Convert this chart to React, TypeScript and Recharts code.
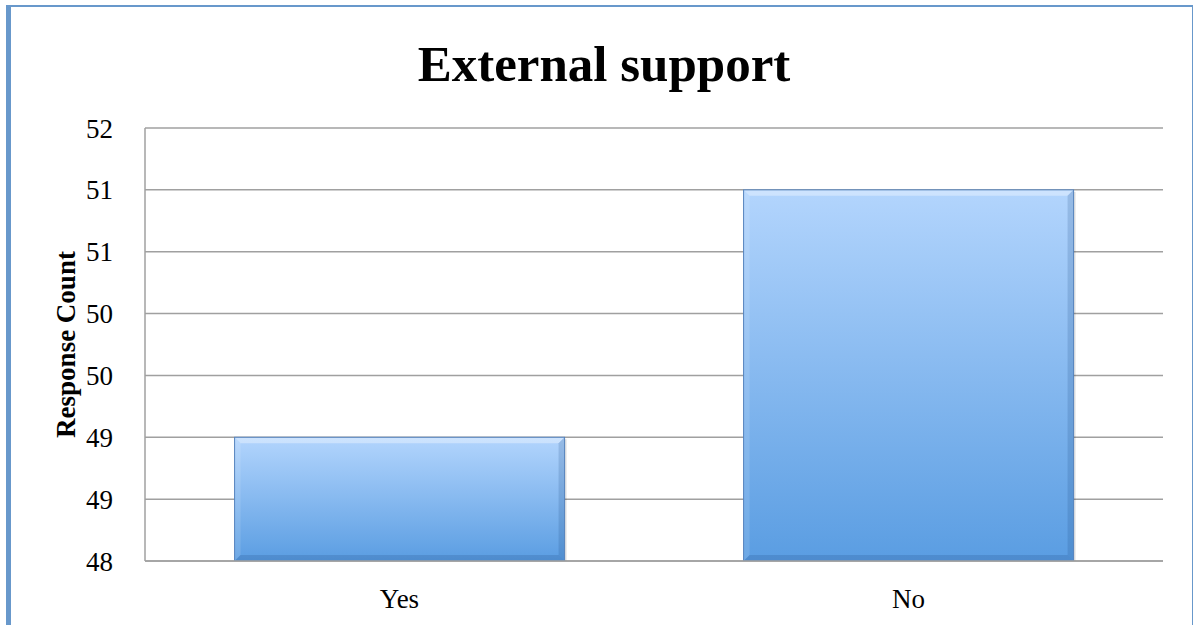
import { Bar, BarChart, CartesianGrid, XAxis, YAxis, Label } from "recharts"

const categories = ["Yes", "No"]
const responseCounts = [49, 51]
const yTicks = [48, 48.5, 49, 49.5, 50, 50.5, 51, 51.5]

const data = categories.map((name, i) => ({ name, count: responseCounts[i] }))

const serif = "'Liberation Serif', 'DejaVu Serif', serif"

// bevelled bar, roughly like the office "3-D" bar style
function BevelBar(props: any) {
  const { x, y, width, height } = props
  if (!width || !height || height <= 0) return null
  const b = 6
  return (
    <g>
      <rect x={x + 2} y={y + 2} width={width} height={height} fill="rgba(0,0,0,0.12)" />
      <rect x={x} y={y} width={width} height={height} fill="url(#barFill)" />
      <polygon
        points={`${x},${y} ${x + width},${y} ${x + width - b},${y + b} ${x + b},${y + b}`}
        fill="rgba(255,255,255,0.35)"
      />
      <polygon
        points={`${x},${y} ${x + b},${y + b} ${x + b},${y + height - b} ${x},${y + height}`}
        fill="rgba(255,255,255,0.12)"
      />
      <polygon
        points={`${x + width},${y} ${x + width},${y + height} ${x + width - b},${y + height - b} ${x + width - b},${y + b}`}
        fill="rgba(30,70,130,0.18)"
      />
      <polygon
        points={`${x},${y + height} ${x + width},${y + height} ${x + width - b},${y + height - b} ${x + b},${y + height - b}`}
        fill="rgba(30,70,130,0.2)"
      />
      <rect x={x} y={y} width={width} height={height} fill="none" stroke="#5583bd" strokeWidth={1} />
    </g>
  )
}

export default function App() {
  return (
    <div style={{ position: "absolute", left: 0, top: 0, width: 1195, height: 625, background: "#fff", overflow: "hidden" }}>
      <div
        style={{
          position: "absolute",
          left: 6,
          top: 5,
          width: 1187,
          height: 640,
          borderLeft: "5px solid #6898cb",
          borderTop: "2px solid #6898cb",
          borderRight: "1px solid #6898cb",
          boxSizing: "border-box",
        }}
      />
      <div
        style={{
          position: "absolute",
          left: 0,
          width: 1208,
          top: 34,
          textAlign: "center",
          fontFamily: serif,
          fontWeight: "bold",
          fontSize: 51,
          lineHeight: "60px",
          color: "#000",
        }}
      >
        External support
      </div>
      <BarChart
        width={1195}
        height={625}
        data={data}
        margin={{ top: 128, right: 32, bottom: 0, left: 85 }}
        barCategoryGap="17.6%"
        style={{ position: "absolute", left: 0, top: 0 }}
      >
        <defs>
          <linearGradient id="barFill" x1="0" y1="0" x2="0" y2="1">
            <stop offset="0%" stopColor="#b3d5fd" />
            <stop offset="100%" stopColor="#5a9de2" />
          </linearGradient>
        </defs>
        <CartesianGrid vertical={false} stroke="#a0a0a0" strokeWidth={1.5} />
        <XAxis
          dataKey="name"
          height={64}
          tickLine={false}
          axisLine={{ stroke: "#a0a0a0", strokeWidth: 1.5 }}
          tick={{ fill: "#000", fontSize: 27, fontFamily: serif }}
          tickMargin={22}
        />
        <YAxis
          width={60}
          domain={[48, 51.5]}
          ticks={yTicks}
          allowDataOverflow
          tickFormatter={(v: number) => String(Math.round(v))}
          tickLine={false}
          axisLine={{ stroke: "#a0a0a0", strokeWidth: 1.5 }}
          tick={{ fill: "#000", fontSize: 27, fontFamily: serif }}
          tickMargin={26}
        >
          <Label
            value="Response Count"
            angle={-90}
            position="insideLeft"
            offset={-20}
            style={{ textAnchor: "middle", fontFamily: serif, fontWeight: "bold", fontSize: 27, fill: "#000" }}
          />
        </YAxis>
        <Bar dataKey="count" shape={<BevelBar />} isAnimationActive={false} />
      </BarChart>
    </div>
  )
}
